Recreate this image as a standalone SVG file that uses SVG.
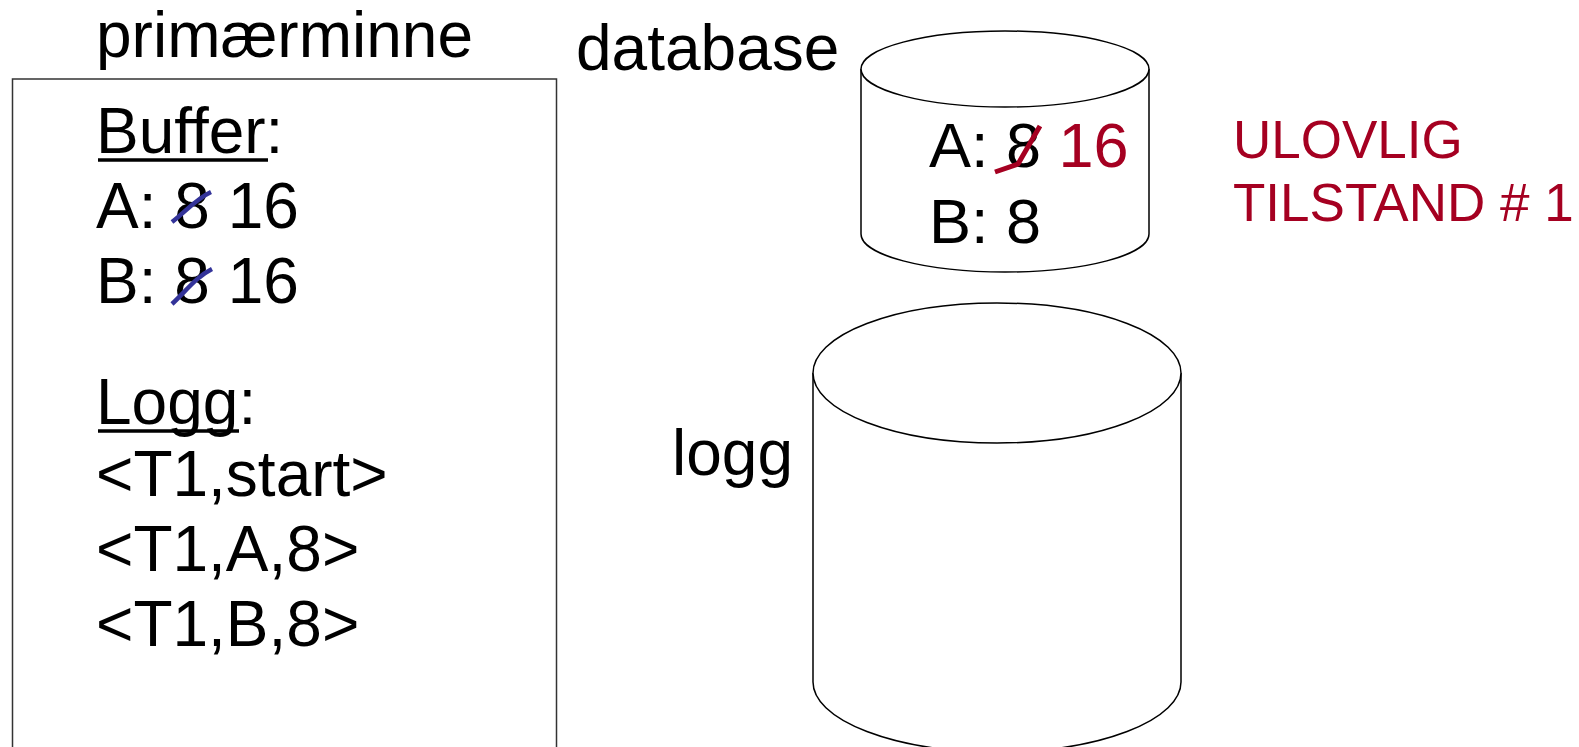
<svg xmlns="http://www.w3.org/2000/svg" width="1579" height="747" viewBox="0 0 1579 747">
  <style>
    text { font-family: "Liberation Sans", Arial, sans-serif; fill: #000; }
    .big { font-size: 64px; }
    .mid { font-size: 63px; }
    .red { fill: #A50021; }
    .warn { font-size: 53px; fill: #A50021; }
    .frame { fill: none; stroke: #333; stroke-width: 1.5; }
    .drum { fill: #fff; stroke: #000; stroke-width: 1.5; }
    .ul { stroke: #000; stroke-width: 3.5; }
    .strike-blue { fill: none; stroke: #333399; stroke-width: 4.5; stroke-linecap: butt; }
    .strike-red { fill: none; stroke: #A50021; stroke-width: 5; stroke-linejoin: round; }
  </style>

  <!-- main memory -->
  <g id="primaerminne">
    <text class="big" x="96" y="57">primærminne</text>
    <rect class="frame" x="12.5" y="79" width="544" height="700"/>
    <text class="big" x="96" y="153">Buffer:</text>
    <line class="ul" x1="98" y1="160" x2="268" y2="160"/>
    <text class="big" x="96" y="228">A: 8 16</text>
    <text class="big" x="96" y="303">B: 8 16</text>
    <path class="strike-blue" d="M172,222 C185,212 196,199 211,192"/>
    <path class="strike-blue" d="M172,304 C186,291 196,277 212,269"/>
    <text class="big" x="96" y="424">Logg:</text>
    <line class="ul" x1="98" y1="431" x2="239" y2="431"/>
    <text class="big" x="96" y="496">&lt;T1,start&gt;</text>
    <text class="big" x="96" y="571">&lt;T1,A,8&gt;</text>
    <text class="big" x="96" y="646">&lt;T1,B,8&gt;</text>
  </g>

  <!-- database on disk -->
  <g id="database">
    <text class="big" x="576" y="70">database</text>
    <path class="drum" d="M861,69 L861,234 A144,38 0 0 0 1149,234 L1149,69"/>
    <ellipse class="drum" cx="1005" cy="69" rx="144" ry="38"/>
    <text class="mid" x="929" y="167">A: 8 <tspan class="red">16</tspan></text>
    <text class="mid" x="929" y="243">B: 8</text>
    <path class="strike-red" d="M995,172 L1018,164 L1040,126"/>
  </g>

  <!-- log on disk -->
  <g id="logg">
    <text class="big" x="672" y="475">logg</text>
    <path class="drum" d="M813,373 L813,682 A184,70 0 0 0 1181,682 L1181,373"/>
    <ellipse class="drum" cx="997" cy="373" rx="184" ry="70"/>
  </g>

  <!-- warning -->
  <g id="ulovlig">
    <text class="warn" x="1233" y="158">ULOVLIG</text>
    <text class="warn" x="1233" y="221">TILSTAND # 1</text>
  </g>

  <g id="connectors"></g>
</svg>
